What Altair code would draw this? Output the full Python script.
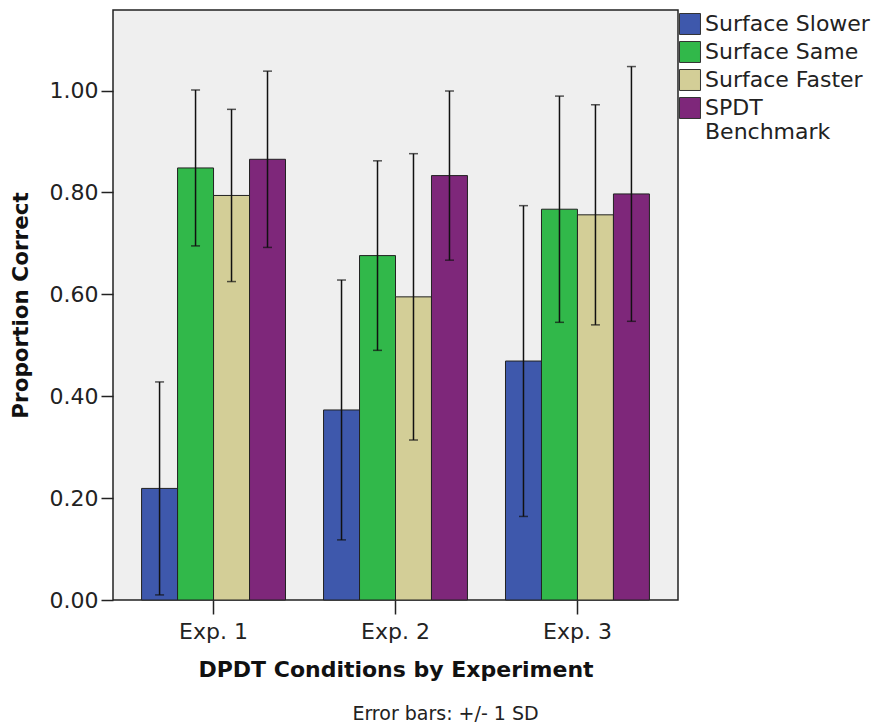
import altair as alt
import pandas as pd

experiments = ["Exp. 1", "Exp. 2", "Exp. 3"]
conditions = ["Surface Slower", "Surface Same", "Surface Faster", "SPDT Benchmark"]
colors = ["#3E58AC", "#31B84A", "#D3CE97", "#7E277A"]

slower_mean = [0.219, 0.373, 0.469]
slower_sd = [0.209, 0.255, 0.305]
same_mean = [0.848, 0.676, 0.767]
same_sd = [0.153, 0.186, 0.222]
faster_mean = [0.794, 0.595, 0.756]
faster_sd = [0.169, 0.281, 0.216]
spdt_mean = [0.865, 0.833, 0.797]
spdt_sd = [0.173, 0.166, 0.250]

y_ticks = [0.0, 0.2, 0.4, 0.6, 0.8, 1.0]

means = [slower_mean, same_mean, faster_mean, spdt_mean]
sds = [slower_sd, same_sd, faster_sd, spdt_sd]
rows = []
for ci, cond in enumerate(conditions):
    for ei, exp in enumerate(experiments):
        m = means[ci][ei]
        s = sds[ci][ei]
        rows.append({"exp": exp, "cond": cond, "mean": m, "lo": m - s, "hi": m + s})
df = pd.DataFrame(rows)

FONT = "DejaVu Sans"

x = alt.X("exp:N", sort=experiments,
          scale=alt.Scale(paddingInner=0.209, paddingOuter=0.157),
          axis=alt.Axis(title="DPDT Conditions by Experiment", labelAngle=0,
                        tickSize=14, tickColor="#222", tickWidth=1.5,
                        labelPadding=7, titlePadding=17, domain=False))
xoff = alt.XOffset("cond:N", sort=conditions,
                   scale=alt.Scale(paddingInner=0, paddingOuter=0))
yscale = alt.Scale(domain=[0, 1.158], nice=False, zero=True)

bars = alt.Chart(df).mark_bar(stroke="#222", strokeWidth=1).encode(
    x=x,
    xOffset=xoff,
    y=alt.Y("mean:Q", scale=yscale,
            axis=alt.Axis(title="Proportion Correct", values=y_ticks, format=".2f",
                          grid=False, domain=False, tickSize=12, tickColor="#222",
                          tickWidth=1.5, labelPadding=3, titlePadding=17,
                          titleFontSize=21.5)),
    color=alt.Color("cond:N", sort=conditions,
                    scale=alt.Scale(domain=conditions, range=colors),
                    legend=alt.Legend(
                        title=None,
                        labelExpr="datum.label == 'SPDT Benchmark' ? ['SPDT', 'Benchmark'] : datum.label",
                    )),
)

rules = alt.Chart(df).mark_rule(color="#111", strokeWidth=1.5).encode(
    x=x, xOffset=xoff,
    y=alt.Y("lo:Q", scale=yscale), y2="hi:Q",
)
caps_hi = alt.Chart(df).mark_tick(color="#111", thickness=1.5, size=9, orient="horizontal").encode(
    x=x, xOffset=xoff, y=alt.Y("hi:Q", scale=yscale),
)
caps_lo = alt.Chart(df).mark_tick(color="#111", thickness=1.5, size=9, orient="horizontal").encode(
    x=x, xOffset=xoff, y=alt.Y("lo:Q", scale=yscale),
)

chart = alt.layer(bars, rules, caps_hi, caps_lo).properties(
    width=565, height=590,
    padding={"left": 113, "top": 10, "right": 197, "bottom": 124},
    autosize=alt.AutoSizeParams(type="none"),
    title=alt.TitleParams("Error bars: +/- 1 SD", orient="bottom", anchor="middle",
                          fontSize=19, fontWeight="normal", font=FONT, color="#222",
                          dx=50, offset=25),
).configure_view(
    fill="#EFEFEF", stroke="#222", strokeWidth=1.5
).configure_axis(
    labelFont=FONT, titleFont=FONT, labelFontSize=22, titleFontSize=22,
    labelColor="#222", titleColor="#111", titleFontWeight="bold",
).configure_legend(
    orient="none", legendX=566, legendY=3,
    symbolType="square", symbolSize=440, symbolStrokeColor="#333",
    symbolStrokeWidth=1, symbolOpacity=1,
    labelFont=FONT, labelFontSize=22, labelColor="#222", labelLimit=300,
    labelOffset=4, rowPadding=2,
)

chart.save("out.html", embed_options={"renderer": "svg", "actions": False})
